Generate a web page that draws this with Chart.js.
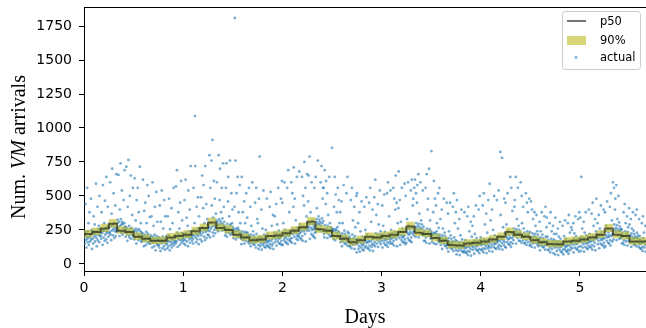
<!DOCTYPE html>
<html>
<head>
<meta charset="utf-8">
<script src="https://cdn.jsdelivr.net/npm/chart.js@4.4.1/dist/chart.umd.min.js"></script>
<style>
  html, body { margin: 0; padding: 0; background: #fff; }
  #wrap { width: 646px; height: 328px; }
</style>
</head>
<body>
<div id="wrap"><canvas id="c" width="646" height="328"></canvas></div>
<script>
// --- Data ---

// p50 and 90% band are 2-hour steps, actual arrivals are 5-minute samples
const binsPerDay = 12;
const samplesPerDay = 288;
const xMax = 68 / binsPerDay;

const xTicks = [0, 1, 2, 3, 4, 5];
const yTicks = [0, 250, 500, 750, 1000, 1250, 1500, 1750];

const p50 = [
  205, 220, 235, 260, 295, 245, 235, 200, 185, 170, 170, 195,
  205, 215, 240, 265, 305, 265, 250, 215, 195, 175, 180, 205,
  210, 225, 245, 270, 310, 255, 245, 205, 185, 160, 175, 200,
  195, 205, 215, 235, 275, 230, 220, 190, 170, 140, 135, 150,
  155, 165, 180, 200, 235, 215, 200, 175, 160, 145, 145, 165,
  170, 180, 195, 215, 260, 215, 205, 165
];

const bandLow = [
  180, 195, 212, 235, 268, 222, 210, 176, 160, 146, 147, 170,
  180, 190, 214, 240, 278, 240, 226, 190, 170, 150, 156, 180,
  186, 200, 220, 244, 284, 230, 220, 180, 160, 136, 150, 176,
  170, 180, 190, 210, 250, 205, 196, 166, 146, 116, 112, 126,
  132, 142, 156, 176, 210, 190, 176, 150, 136, 122, 122, 142,
  146, 156, 170, 190, 234, 190, 180, 142
];

const bandHigh = [
  238, 252, 268, 294, 330, 278, 268, 232, 216, 200, 202, 228,
  238, 248, 274, 298, 340, 298, 284, 248, 226, 206, 212, 238,
  244, 258, 278, 304, 345, 288, 278, 238, 216, 192, 208, 232,
  228, 238, 248, 268, 310, 262, 252, 222, 200, 170, 166, 182,
  186, 196, 212, 232, 268, 248, 232, 206, 190, 176, 176, 196,
  202, 212, 228, 248, 294, 248, 238, 196
];

// one row = 2 hours of 5-minute samples
const actual = [
  // day 0
  190,225,150,210,440,175,235,120,200,560,185,160,240,300,140,195,380,215,165,205,480,180,250,110,
  230,185,245,150,350,200,225,290,165,240,210,590,190,130,235,420,175,255,215,280,160,500,205,230,
  205,255,185,380,225,245,140,580,240,195,250,300,170,465,215,265,180,640,230,240,155,420,275,200,
  265,225,290,235,600,215,275,175,370,245,700,285,210,255,520,300,190,270,240,430,205,255,660,235,
  300,240,325,270,655,250,310,205,400,280,740,330,230,290,540,310,215,295,260,470,235,300,690,275,
  250,200,270,715,225,260,170,420,240,765,210,280,195,500,255,230,650,185,265,215,360,240,560,205,
  215,250,180,630,240,195,320,260,150,470,225,245,560,200,175,380,255,215,715,190,240,300,165,230,
  210,165,225,620,180,200,130,390,215,170,450,190,140,235,300,205,580,160,220,185,500,150,195,345,
  195,150,210,170,350,185,120,600,200,155,280,175,130,215,420,190,100,165,530,205,145,310,180,135,
  175,140,195,120,430,165,95,310,180,150,540,170,115,200,260,160,130,470,185,105,350,170,145,205,
  180,150,115,350,165,130,210,480,170,100,255,190,140,160,410,120,185,300,150,175,560,135,200,160,
  210,170,150,570,195,165,690,230,125,190,380,215,180,260,140,450,205,175,610,155,225,320,190,170,
  // day 1
  225,185,150,210,470,175,140,620,230,195,340,165,210,280,130,540,200,240,180,400,155,215,720,190,
  240,200,170,215,185,150,560,250,210,300,1088,720,195,230,160,420,215,180,260,490,205,145,350,225,
  260,225,180,245,490,210,165,650,270,230,410,580,250,200,300,175,720,235,260,440,190,245,330,215,
  290,250,210,270,800,240,195,560,300,260,760,430,275,912,230,340,205,610,285,250,480,225,270,370,
  320,290,600,250,310,280,240,800,330,290,470,700,315,265,380,300,560,245,335,290,740,275,420,310,
  280,250,210,270,560,230,740,200,295,255,460,640,260,230,350,280,760,215,290,250,520,225,300,400,
  270,240,190,255,215,420,1809,235,760,180,260,520,245,210,640,265,195,380,250,230,580,205,300,225,
  185,145,640,240,205,380,175,220,190,460,150,235,300,205,170,520,230,195,340,230,200,160,210,560,
  150,200,165,420,130,215,280,190,155,600,175,240,145,210,180,140,195,450,160,120,560,220,185,330,
  170,300,140,110,480,200,790,165,130,180,150,400,105,195,260,170,140,540,155,215,125,190,160,120,
  250,175,140,480,160,220,130,195,165,125,175,420,145,115,530,205,170,280,135,185,150,360,110,200,
  230,195,350,160,210,180,440,135,225,290,200,165,560,185,245,150,220,190,150,200,480,170,140,610,
  // day 2
  450,140,235,300,210,175,600,190,250,160,230,200,155,215,560,180,145,690,240,205,380,170,215,185,
  165,230,600,190,155,520,255,220,420,710,235,200,480,150,250,320,225,185,640,205,265,175,245,215,
  200,680,225,290,190,265,235,180,250,640,205,170,500,275,240,430,750,255,220,560,165,270,350,245,
  660,300,260,460,650,275,245,790,185,295,380,265,220,600,250,320,210,290,255,200,270,560,230,190,
  285,640,235,330,410,305,265,760,290,350,250,325,295,255,310,600,280,240,720,335,300,480,560,315,
  560,220,195,690,285,250,440,610,260,230,520,190,280,360,250,215,640,240,300,200,270,245,205,255,
  853,235,260,250,185,210,420,240,640,175,255,510,250,225,380,195,270,560,240,205,470,230,300,185,
  380,160,210,180,460,130,225,300,200,165,580,185,245,150,220,195,150,200,520,170,135,640,235,190,
  165,225,130,200,170,130,185,470,150,115,560,215,175,320,140,190,160,420,110,205,270,180,145,500,
  85,520,185,150,300,110,165,130,380,90,180,240,155,120,460,140,200,105,175,140,100,155,420,120,
  195,250,170,130,490,155,215,115,190,160,115,170,450,135,100,560,200,165,310,125,180,145,400,95,
  185,140,195,490,160,130,620,225,190,360,150,205,175,440,125,220,290,195,160,540,180,240,145,215,
  // day 3
  200,170,430,120,215,280,190,155,510,175,235,140,210,180,140,190,520,160,125,600,220,185,350,150,
  200,165,540,185,250,150,225,190,150,200,560,170,135,480,235,195,400,650,210,180,450,130,230,300,
  205,410,680,220,190,470,140,240,310,210,175,560,195,260,160,235,200,160,210,590,180,145,500,245,
  155,260,330,230,190,600,215,280,175,255,220,170,235,540,195,160,620,265,225,430,480,240,210,560,
  270,620,240,200,520,300,265,450,580,280,250,660,195,295,370,270,230,600,255,320,215,290,260,215,
  540,210,275,170,245,215,170,230,560,195,155,660,260,220,400,480,235,205,700,150,255,320,225,185,
  240,830,210,160,225,185,380,215,610,150,230,480,225,195,430,145,240,300,215,175,520,200,265,160,
  560,215,180,330,140,195,165,400,110,210,260,185,150,480,170,230,135,205,175,130,185,450,150,115,
  145,370,90,190,240,165,130,450,150,210,115,185,155,110,165,420,130,95,520,195,160,300,120,175,
  380,100,70,470,165,130,260,95,145,115,330,65,160,210,135,100,400,120,180,90,155,125,85,135,
  95,380,115,175,85,150,120,80,130,350,95,65,420,160,125,240,90,140,110,310,60,155,200,130,
  280,105,155,125,350,75,170,220,145,110,430,130,190,100,165,135,95,145,400,110,80,500,175,140,
  // day 4
  195,105,170,140,100,150,430,115,85,520,180,145,290,110,160,130,370,80,175,230,150,115,470,135,
  125,95,590,190,155,320,120,170,140,400,90,185,250,160,125,500,145,210,115,180,150,110,160,470,
  195,165,125,175,540,140,110,205,170,824,360,130,185,155,780,105,200,270,175,140,480,160,225,125,
  450,120,220,290,195,160,520,180,245,145,215,185,140,195,640,160,125,560,225,190,390,150,205,175,
  260,225,420,470,240,210,640,150,255,330,230,190,560,215,280,170,250,220,170,230,600,195,155,500,
  300,210,170,420,195,260,150,230,200,155,210,520,175,140,450,240,205,380,160,220,190,480,135,235,
  140,195,460,160,125,400,225,190,330,150,205,175,380,120,220,280,195,155,360,180,240,140,215,185,
  130,180,150,310,100,195,240,170,135,380,155,215,125,190,160,120,170,350,135,105,420,200,165,270,
  340,140,200,105,175,145,100,155,300,120,85,380,185,150,240,110,165,135,280,80,180,220,155,120,
  70,340,170,135,220,95,150,120,260,65,165,200,140,105,310,125,185,90,160,130,85,140,280,105,
  70,165,205,140,110,320,125,185,95,160,130,90,140,300,105,75,360,170,135,230,100,150,120,270,
  155,250,115,170,140,300,85,185,225,160,120,350,145,205,110,180,150,105,160,330,125,90,380,190,
  // day 5
  165,340,130,95,640,195,160,260,120,175,145,310,90,190,230,165,125,380,150,210,115,185,155,110,
  175,135,400,160,220,125,195,165,120,175,370,140,105,450,205,170,280,130,185,155,330,100,200,240,
  480,220,185,300,145,200,170,360,115,215,260,190,150,430,175,235,140,210,180,135,190,400,155,120,
  190,380,130,240,280,210,170,460,195,255,155,230,200,150,210,420,175,135,520,245,205,320,165,220,
  600,220,180,560,290,250,400,480,265,235,580,175,285,330,255,210,500,240,305,185,275,245,190,255,
  195,255,150,230,200,155,210,380,175,140,440,240,205,300,165,220,190,350,135,235,270,210,170,410,
  290,155,210,180,330,125,225,260,200,160,380,185,245,140,220,190,145,200,360,165,130,400,230,195,
  185,210,160,125,330,145,205,115,180,150,110,160,300,125,95,350,190,155,230,120,170,140,280,90
];

// --- Build points ---

// steps hold until the next bin, so repeat the last value at the end
function stepPoints(vals) {
  const pts = vals.map((v, i) => ({ x: i / binsPerDay, y: v }));
  pts.push({ x: vals.length / binsPerDay, y: vals[vals.length - 1] });
  return pts;
}

const actualPoints = actual.map((v, i) => ({ x: i / samplesPerDay, y: v }));

const LINE_COLOR = 'rgba(0,0,0,0.55)';
const BAND_COLOR = 'rgba(188,189,34,0.6)';
const DOT_COLOR = 'rgba(31,119,180,0.6)';
const TICK_FONT = { family: 'DejaVu Sans', size: 14 };

// titles, top spine and legend drawn by hand (mixed italic in y title)
const decorations = {
  id: 'decorations',
  afterDraw(chart) {
    const ctx = chart.ctx;
    const area = chart.chartArea;
    ctx.save();

    // top spine
    ctx.strokeStyle = '#000';
    ctx.lineWidth = 1;
    ctx.beginPath();
    ctx.moveTo(area.left, area.top + 0.5);
    ctx.lineTo(area.right, area.top + 0.5);
    ctx.stroke();

    // x title
    ctx.fillStyle = '#000';
    ctx.font = '20px "Liberation Serif"';
    ctx.textAlign = 'center';
    ctx.textBaseline = 'alphabetic';
    ctx.fillText('Days', (area.left + area.right) / 2, 323);

    // y title: "Num. VM arrivals" with VM in italic
    const parts = [
      { t: 'Num. ', f: '20px "Liberation Serif"' },
      { t: 'VM', f: 'italic 20px "Liberation Serif"' },
      { t: ' arrivals', f: '20px "Liberation Serif"' }
    ];
    let total = 0;
    parts.forEach(p => { ctx.font = p.f; p.w = ctx.measureText(p.t).width; total += p.w; });
    ctx.translate(25, (area.top + area.bottom) / 2 + 8);
    ctx.rotate(-Math.PI / 2);
    ctx.textAlign = 'left';
    let cx = -total / 2;
    parts.forEach(p => { ctx.font = p.f; ctx.fillText(p.t, cx, 0); cx += p.w; });
    ctx.setTransform(1, 0, 0, 1, 0, 0);

    // legend box
    const bx = 562, by = 11, bw = 78, bh = 58;
    ctx.fillStyle = 'rgba(255,255,255,0.85)';
    ctx.strokeStyle = '#cccccc';
    ctx.lineWidth = 1;
    ctx.beginPath();
    ctx.roundRect(bx + 0.5, by + 0.5, bw, bh, 3);
    ctx.fill();
    ctx.stroke();

    ctx.font = '11.5px "DejaVu Sans"';
    ctx.textBaseline = 'middle';
    ctx.textAlign = 'left';

    ctx.strokeStyle = LINE_COLOR;
    ctx.lineWidth = 2;
    ctx.beginPath();
    ctx.moveTo(567, 21);
    ctx.lineTo(586, 21);
    ctx.stroke();
    ctx.fillStyle = '#000';
    ctx.fillText('p50', 600, 22);

    ctx.fillStyle = BAND_COLOR;
    ctx.fillRect(567, 36, 19, 9);
    ctx.fillStyle = '#000';
    ctx.fillText('90%', 600, 41);

    ctx.fillStyle = DOT_COLOR;
    ctx.beginPath();
    ctx.arc(576, 57.5, 1.4, 0, Math.PI * 2);
    ctx.fill();
    ctx.fillStyle = '#000';
    ctx.fillText('actual', 600, 58);

    ctx.restore();
  }
};

new Chart(document.getElementById('c'), {
  type: 'scatter',
  data: {
    datasets: [
      {
        label: 'actual',
        data: actualPoints,
        backgroundColor: DOT_COLOR,
        borderWidth: 0,
        pointRadius: 1.4,
        pointHoverRadius: 0,
        order: 4
      },
      {
        label: 'low',
        type: 'line',
        data: stepPoints(bandLow),
        stepped: 'after',
        borderWidth: 0,
        pointRadius: 0,
        pointHoverRadius: 0,
        fill: false,
        order: 3
      },
      {
        label: '90%',
        type: 'line',
        data: stepPoints(bandHigh),
        stepped: 'after',
        borderWidth: 0,
        pointRadius: 0,
        pointHoverRadius: 0,
        backgroundColor: BAND_COLOR,
        fill: '-1',
        order: 2
      },
      {
        label: 'p50',
        type: 'line',
        data: stepPoints(p50),
        stepped: 'after',
        borderColor: LINE_COLOR,
        borderWidth: 2,
        pointRadius: 0,
        pointHoverRadius: 0,
        fill: false,
        order: 1
      }
    ]
  },
  options: {
    responsive: false,
    animation: false,
    devicePixelRatio: 1,
    layout: { autoPadding: false, padding: { top: 7, right: 0, left: 0, bottom: 0 } },
    plugins: {
      legend: { display: false },
      tooltip: { enabled: false }
    },
    scales: {
      x: {
        type: 'linear',
        min: 0,
        max: xMax,
        afterBuildTicks: s => { s.ticks = xTicks.map(v => ({ value: v })); },
        afterFit: s => { s.height = 57; s.paddingLeft = 0; s.paddingRight = 0; },
        grid: { drawOnChartArea: false, drawTicks: true, tickLength: 5, color: '#000' },
        border: { display: true, color: '#000', width: 1 },
        ticks: { color: '#000', font: TICK_FONT, padding: 4, maxRotation: 0, callback: v => String(v) }
      },
      y: {
        min: -52,
        max: 1890,
        afterBuildTicks: s => { s.ticks = yTicks.map(v => ({ value: v })); },
        afterFit: s => { s.width = 84; s.paddingTop = 0; s.paddingBottom = 0; },
        grid: { drawOnChartArea: false, drawTicks: true, tickLength: 5, color: '#000' },
        border: { display: true, color: '#000', width: 1 },
        ticks: { color: '#000', font: TICK_FONT, padding: 7, callback: v => String(v) }
      }
    }
  },
  plugins: [decorations]
});
</script>
</body>
</html>
